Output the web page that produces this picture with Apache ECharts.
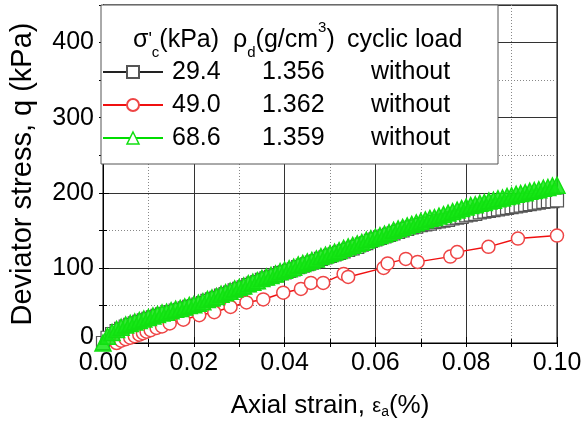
<!DOCTYPE html>
<html>
<head>
<meta charset="utf-8">
<script src="https://cdn.jsdelivr.net/npm/echarts@6/dist/echarts.min.js"></script>
<style>html,body{margin:0;padding:0;background:#fff;}#c{width:586px;height:430px;}</style>
</head>
<body>
<div id="c"></div>
<script>
// ---- data ----
const strain = [0,0.001,0.002,0.003,0.004,0.005,0.006,0.007,0.008,0.009,0.010,0.011,0.012,0.013,0.014,0.015,0.016,0.017,0.018,0.019,0.020,
0.021,0.022,0.023,0.024,0.025,0.026,0.027,0.028,0.029,0.030,0.031,0.032,0.033,0.034,0.035,0.036,0.037,0.038,0.039,0.040,
0.041,0.042,0.043,0.044,0.045,0.046,0.047,0.048,0.049,0.050,0.051,0.052,0.053,0.054,0.055,0.056,0.057,0.058,0.059,0.060,
0.061,0.062,0.063,0.064,0.065,0.066,0.067,0.068,0.069,0.070,0.071,0.072,0.073,0.074,0.075,0.076,0.077,0.078,0.079,0.080,
0.081,0.082,0.083,0.084,0.085,0.086,0.087,0.088,0.089,0.090,0.091,0.092,0.093,0.094,0.095,0.096,0.097,0.098,0.099,0.100];
const stress294 = [0,7,12,16,19,22,24,26,28,30,32,34,36,38,39,41,43,44,46,48,49,
51,53,56,58,60,63,65,67,70,72,74,77,79,81,84,86,88,90,93,94,
96,98,101,103,105,107,109,112,114,116,118,120,122,124,126,128,131,133,136,138,
140,142,144,146,148,150,152,154,155,157,158,159,161,162,163,164,166,167,168,170,
171,172,174,175,176,177,178,179,180,181,182,183,184,185,186,187,188,189,189,190];
const stress686 = [0,9,14,18,21,24,26,28,30,32,34,36,38,40,41,43,45,46,48,50,51,
53,55,58,60,62,65,67,69,72,74,76,79,81,83,86,88,90,92,95,97,
99,101,104,106,108,110,112,115,117,119,121,123,126,128,130,132,134,137,139,141,
143,145,147,150,152,154,156,158,160,162,164,166,167,169,171,173,175,177,179,181,
183,184,186,187,189,190,192,193,195,196,198,199,200,202,203,204,206,207,209,210];
const strain490 = [0.003,0.004,0.005,0.006,0.007,0.008,0.0088,0.0096,0.0105,0.0118,0.013,0.0147,0.0177,0.0212,0.0245,0.0281,0.0316,0.0353,0.0397,0.0436,0.0458,0.0485,0.053,0.054,0.0618,0.0627,0.0667,0.0693,0.0765,0.078,0.0849,0.0914,0.1];
const stress490 = [0,3,5,7,9,11,13,15,17,20,22,26,31,37,41,48,54,58,67,72,80,80,92,88,100,106,112,108,115,121,128,139,143];

const legendNames = ['29.4','49.0','68.6'];
const legendRho = ['1.356','1.362','1.359'];
const legendLoad = ['without','without','without'];
const yTicks = [0,100,200,300,400];

const zip = (xs, ys) => xs.map((x, i) => [x, ys[i]]);
const FONT = '"Liberation Sans", Arial, sans-serif';

const chart = echarts.init(document.getElementById('c'), null, {renderer: 'canvas'});
const gridPos = {left: 101, right: 29, top: 5, bottom: 87};
const minorX = {min: 0, max: 0.1, interval: 0.01};
const minorY = {min: 0, max: 450, interval: 50};

chart.setOption({
  animation: false,
  backgroundColor: '#fff',
  grid: Object.assign({show: true, borderColor: '#000', borderWidth: 1, backgroundColor: 'transparent'}, gridPos),
  xAxis: [
    Object.assign({type: 'value', position: 'bottom', axisLine: {show: false}, axisLabel: {show: false},
      axisTick: {show: true, inside: true, length: 4, lineStyle: {color: '#000'}},
      splitLine: {show: true, lineStyle: {color: '#888', type: [1, 2], width: 1}}}, minorX),
    {type: 'value', position: 'bottom', min: 0, max: 0.1, interval: 0.02,
      name: 'Axial strain, {e|ε}{s|a}(%)', nameLocation: 'middle', nameGap: 50,
      nameTextStyle: {fontFamily: FONT, fontSize: 26, color: '#000',
        rich: {e: {fontFamily: FONT, fontSize: 20, color: '#000'}, s: {fontFamily: FONT, fontSize: 14, color: '#000', verticalAlign: 'bottom', lineHeight: 12}}},
      axisLine: {show: true, lineStyle: {color: '#000', width: 1}},
      axisTick: {show: true, inside: true, length: 6, lineStyle: {color: '#000'}},
      axisLabel: {show: true, margin: 8, fontFamily: FONT, fontSize: 25, color: '#000',
        showMaxLabel: true, showMinLabel: true, formatter: v => v.toFixed(2)},
      splitLine: {show: true, lineStyle: {color: '#333', width: 1}}},
    Object.assign({type: 'value', position: 'top', axisLine: {show: true, lineStyle: {color: '#000'}}, axisLabel: {show: false},
      axisTick: {show: true, inside: true, length: 4, lineStyle: {color: '#000'}}, splitLine: {show: false}}, minorX)
  ],
  yAxis: [
    Object.assign({type: 'value', position: 'left', axisLine: {show: false}, axisLabel: {show: false},
      axisTick: {show: true, inside: true, length: 4, lineStyle: {color: '#000'}},
      splitLine: {show: true, lineStyle: {color: '#888', type: [1, 2], width: 1}}}, minorY),
    {type: 'value', position: 'left', min: 0, max: 450, interval: 100,
      name: 'Deviator stress, q (kPa)', nameLocation: 'middle', nameGap: 66, nameRotate: 90,
      nameTextStyle: {fontFamily: FONT, fontSize: 29, color: '#000'},
      axisLine: {show: true, lineStyle: {color: '#000', width: 1}},
      axisTick: {show: true, inside: true, length: 6, lineStyle: {color: '#000'}},
      axisLabel: {show: true, margin: 9, fontFamily: FONT, fontSize: 25, color: '#000',
        formatter: v => (yTicks.indexOf(v) < 0 ? '' : (v === 0 ? '{z|0}' : String(v))),
        rich: {z: {fontFamily: FONT, fontSize: 25, color: '#000', padding: [0, 0, 12, 0]}}},
      splitLine: {show: true, lineStyle: {color: '#333', width: 1}}},
    Object.assign({type: 'value', position: 'right', axisLine: {show: true, lineStyle: {color: '#000'}}, axisLabel: {show: false},
      axisTick: {show: true, inside: true, length: 4, lineStyle: {color: '#000'}}, splitLine: {show: false}}, minorY)
  ],
  legend: {
    orient: 'vertical', left: 102, top: 59, padding: 0, itemGap: 7,
    itemWidth: 60, itemHeight: 15,
    data: [
      {name: legendNames[0]},
      {name: legendNames[1]},
      {name: legendNames[2], itemStyle: {color: '#fff', borderColor: '#11e011', borderWidth: 1.5}}
    ],
    textStyle: {fontFamily: FONT, fontSize: 25, color: '#000', lineHeight: 26,
      rich: {
        g: {width: 4},
        a: {fontFamily: FONT, fontSize: 25, color: '#000', width: 90},
        b: {fontFamily: FONT, fontSize: 25, color: '#000', width: 109},
        c: {fontFamily: FONT, fontSize: 25, color: '#000'}
      }},
    formatter: name => {
      const i = legendNames.indexOf(name);
      return '{g|}{a|' + name + '}{b|' + legendRho[i] + '}{c|' + legendLoad[i] + '}';
    },
    z: 6
  },
  graphic: [
    {type: 'rect', z: 4, shape: {x: 101, y: 5, width: 397, height: 159},
      style: {fill: '#fff', stroke: '#555', lineWidth: 1}},
    {type: 'text', z: 7, x: 133, y: 40, style: {
      text: '{m|σ}{p|\'}{sb|c}{m|(kPa)}', verticalAlign: 'middle',
      rich: {m: {fontFamily: FONT, fontSize: 25, lineHeight: 40, fill: '#000'},
             p: {fontFamily: FONT, fontSize: 18, lineHeight: 40, fill: '#000'},
             sb: {fontFamily: FONT, fontSize: 15, lineHeight: 15, verticalAlign: 'bottom', fill: '#000'}}}},
    {type: 'text', z: 7, x: 233, y: 40, style: {
      text: '{m|ρ}{sb|d}{m|(g/cm}{sp|3}{m|)}', verticalAlign: 'middle',
      rich: {m: {fontFamily: FONT, fontSize: 25, lineHeight: 40, fill: '#000'},
             sb: {fontFamily: FONT, fontSize: 15, lineHeight: 15, verticalAlign: 'bottom', fill: '#000'},
             sp: {fontFamily: FONT, fontSize: 15, lineHeight: 15, verticalAlign: 'top', fill: '#000'}}}},
    {type: 'text', z: 7, x: 347, y: 40, style: {
      text: 'cyclic load', verticalAlign: 'middle', font: '25px ' + FONT, fill: '#000'}}
  ],
  series: [
    {name: '29.4', type: 'line', xAxisIndex: 1, yAxisIndex: 1, data: zip(strain, stress294),
      symbol: 'rect', symbolSize: 13, showAllSymbol: true, z: 2,
      lineStyle: {color: '#222', width: 1},
      itemStyle: {color: '#fff', borderColor: '#555', borderWidth: 1.2}},
    {name: '49.0', type: 'line', xAxisIndex: 1, yAxisIndex: 1, data: zip(strain490, stress490),
      symbol: 'circle', symbolSize: 13, showAllSymbol: true, z: 2,
      lineStyle: {color: '#f01010', width: 1.5},
      itemStyle: {color: '#fff', borderColor: '#ee4444', borderWidth: 1.5}},
    {name: '68.6', type: 'line', xAxisIndex: 1, yAxisIndex: 1, data: zip(strain, stress686),
      symbol: 'triangle', symbolSize: 16, showAllSymbol: true, z: 2,
      lineStyle: {color: '#00dd00', width: 1},
      itemStyle: {color: 'rgba(20,230,20,0.85)', borderColor: '#11e011', borderWidth: 1.5}}
  ]
});
</script>
</body>
</html>
